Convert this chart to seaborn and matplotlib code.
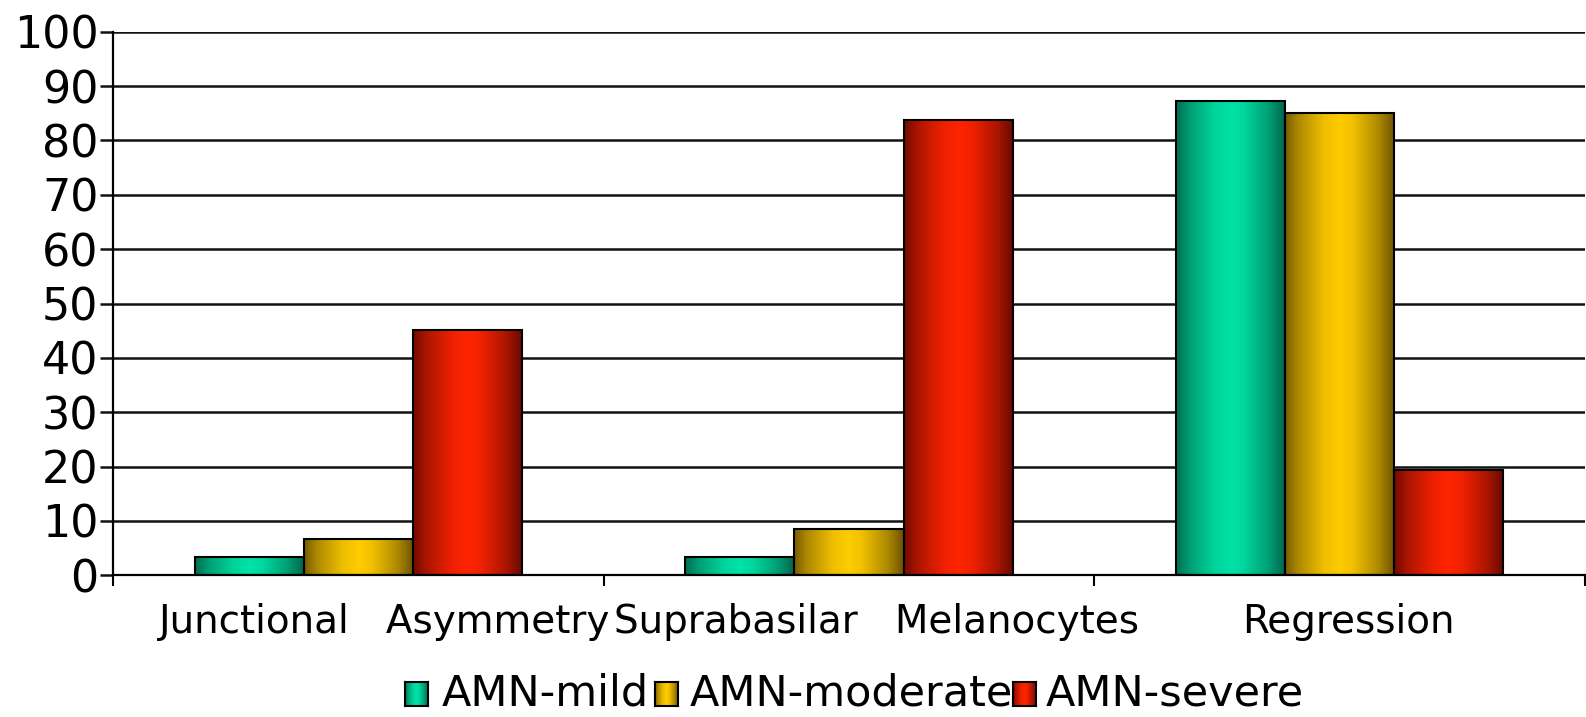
import numpy as np
import pandas as pd
import seaborn as sns
import matplotlib
matplotlib.use("Agg")
import matplotlib.pyplot as plt
from matplotlib.colors import LinearSegmentedColormap, to_rgb
from matplotlib.transforms import ScaledTranslation

# ---- data -------------------------------------------------------------
categories = ["Junctional Asymmetry", "Suprabasilar Melanocytes", "Regression"]
series_names = ["AMN-mild", "AMN-moderate", "AMN-severe"]
mild = [3.4, 3.4, 87.3]
moderate = [6.6, 8.5, 85.0]
severe = [45.2, 83.7, 19.3]
yticks = list(range(0, 101, 10))

df = pd.DataFrame({
    "feature": categories * 3,
    "group": [n for n in series_names for _ in categories],
    "percent": mild + moderate + severe,
})

# dark edge / bright centre colour for each series (cylinder-like shading)
shades = {
    "AMN-mild": ("#00634a", "#00e3a6"),
    "AMN-moderate": ("#6c5300", "#ffcc00"),
    "AMN-severe": ("#650900", "#ff2400"),
}
profile_t = [0.0, 0.12, 0.35, 0.5, 0.62, 0.85, 1.0]
profile_m = [0.08, 0.45, 0.88, 1.0, 0.9, 0.45, 0.0]


def shade_cmap(name):
    dark, bright = np.array(to_rgb(shades[name][0])), np.array(to_rgb(shades[name][1]))
    cols = [tuple(dark + (bright - dark) * m) for m in profile_m]
    return LinearSegmentedColormap.from_list(name, list(zip(profile_t, cols)))


ramp = np.linspace(0, 1, 256).reshape(1, -1)

# ---- figure -----------------------------------------------------------
sns.set_theme(style="white")
plt.rcParams["font.family"] = ["DejaVu Sans"]
plt.rcParams["text.color"] = "black"
plt.rcParams["xtick.color"] = "black"
plt.rcParams["ytick.color"] = "black"
W, H = 1586, 717
fig = plt.figure(figsize=(W / 100, H / 100), dpi=100)
ax = fig.add_axes([113 / W, 1 - 575.3 / H, 1472 / W, (575.3 - 31.7) / H])

sns.barplot(data=df, x="feature", y="percent", hue="group",
            order=categories, hue_order=series_names, width=0.667,
            palette=[shades[n][1] for n in series_names], saturation=1,
            legend=False, ax=ax, edgecolor="black", linewidth=1.5, zorder=3)

# gradient fill inside every bar
for name, cont in zip(series_names, ax.containers):
    cmap = shade_cmap(name)
    for bar in cont:
        x0, w, h = bar.get_x(), bar.get_width(), bar.get_height()
        ax.imshow(ramp, extent=[x0, x0 + w, 0, h], aspect="auto",
                  cmap=cmap, zorder=2.5, interpolation="bilinear")
        bar.set_facecolor("none")

ax.set_xlim(-0.5, len(categories) - 0.5)
ax.set_ylim(0, 100)
ax.set_yticks(yticks)
ax.set_yticklabels([str(v) for v in yticks], fontsize=32, color="black")
ax.yaxis.grid(True, color="#111111", linewidth=1.8, zorder=0)
ax.set_axisbelow(True)
ax.tick_params(axis="y", direction="out", length=9.5, width=1.8,
               color="#111111", labelcolor="black", pad=1, left=True)

ax.set_xticks(range(len(categories)))
ax.set_xticklabels([c.replace(" ", "   ") for c in categories], fontsize=28,
                   color="black")
ax.tick_params(axis="x", length=0, pad=20, labelcolor="black")
label_shift = [26, 28, 9]
for lab, dx in zip(ax.get_xticklabels(), label_shift):
    lab.set_transform(lab.get_transform() + ScaledTranslation(dx / 100, 0, fig.dpi_scale_trans))
ax.set_xticks(np.arange(-0.5, len(categories)), minor=True)
ax.tick_params(axis="x", which="minor", direction="out", length=8, width=1.5,
               color="black", bottom=True)

ax.set_xlabel("")
ax.set_ylabel("")
for side in ("top", "right"):
    ax.spines[side].set_visible(False)
for side in ("left", "bottom"):
    ax.spines[side].set_color("black")
    ax.spines[side].set_linewidth(1.6)

# ---- legend row -------------------------------------------------------
baseline = 706
swatch_x = [405, 655, 1013]
text_x = [442, 690, 1046]
for name, sx, tx in zip(series_names, swatch_x, text_x):
    sax = fig.add_axes([sx / W, (H - baseline) / H, 23 / W, 24 / H], zorder=5)
    sax.imshow(ramp, aspect="auto", cmap=shade_cmap(name), interpolation="bilinear")
    sax.set_xticks([])
    sax.set_yticks([])
    for sp in sax.spines.values():
        sp.set_visible(True)
        sp.set_color("black")
        sp.set_linewidth(1.5)
    fig.text(tx / W, (H - baseline) / H, name, fontsize=31, va="baseline",
             ha="left", color="black", zorder=1)

fig.savefig("out.png", dpi=100)
